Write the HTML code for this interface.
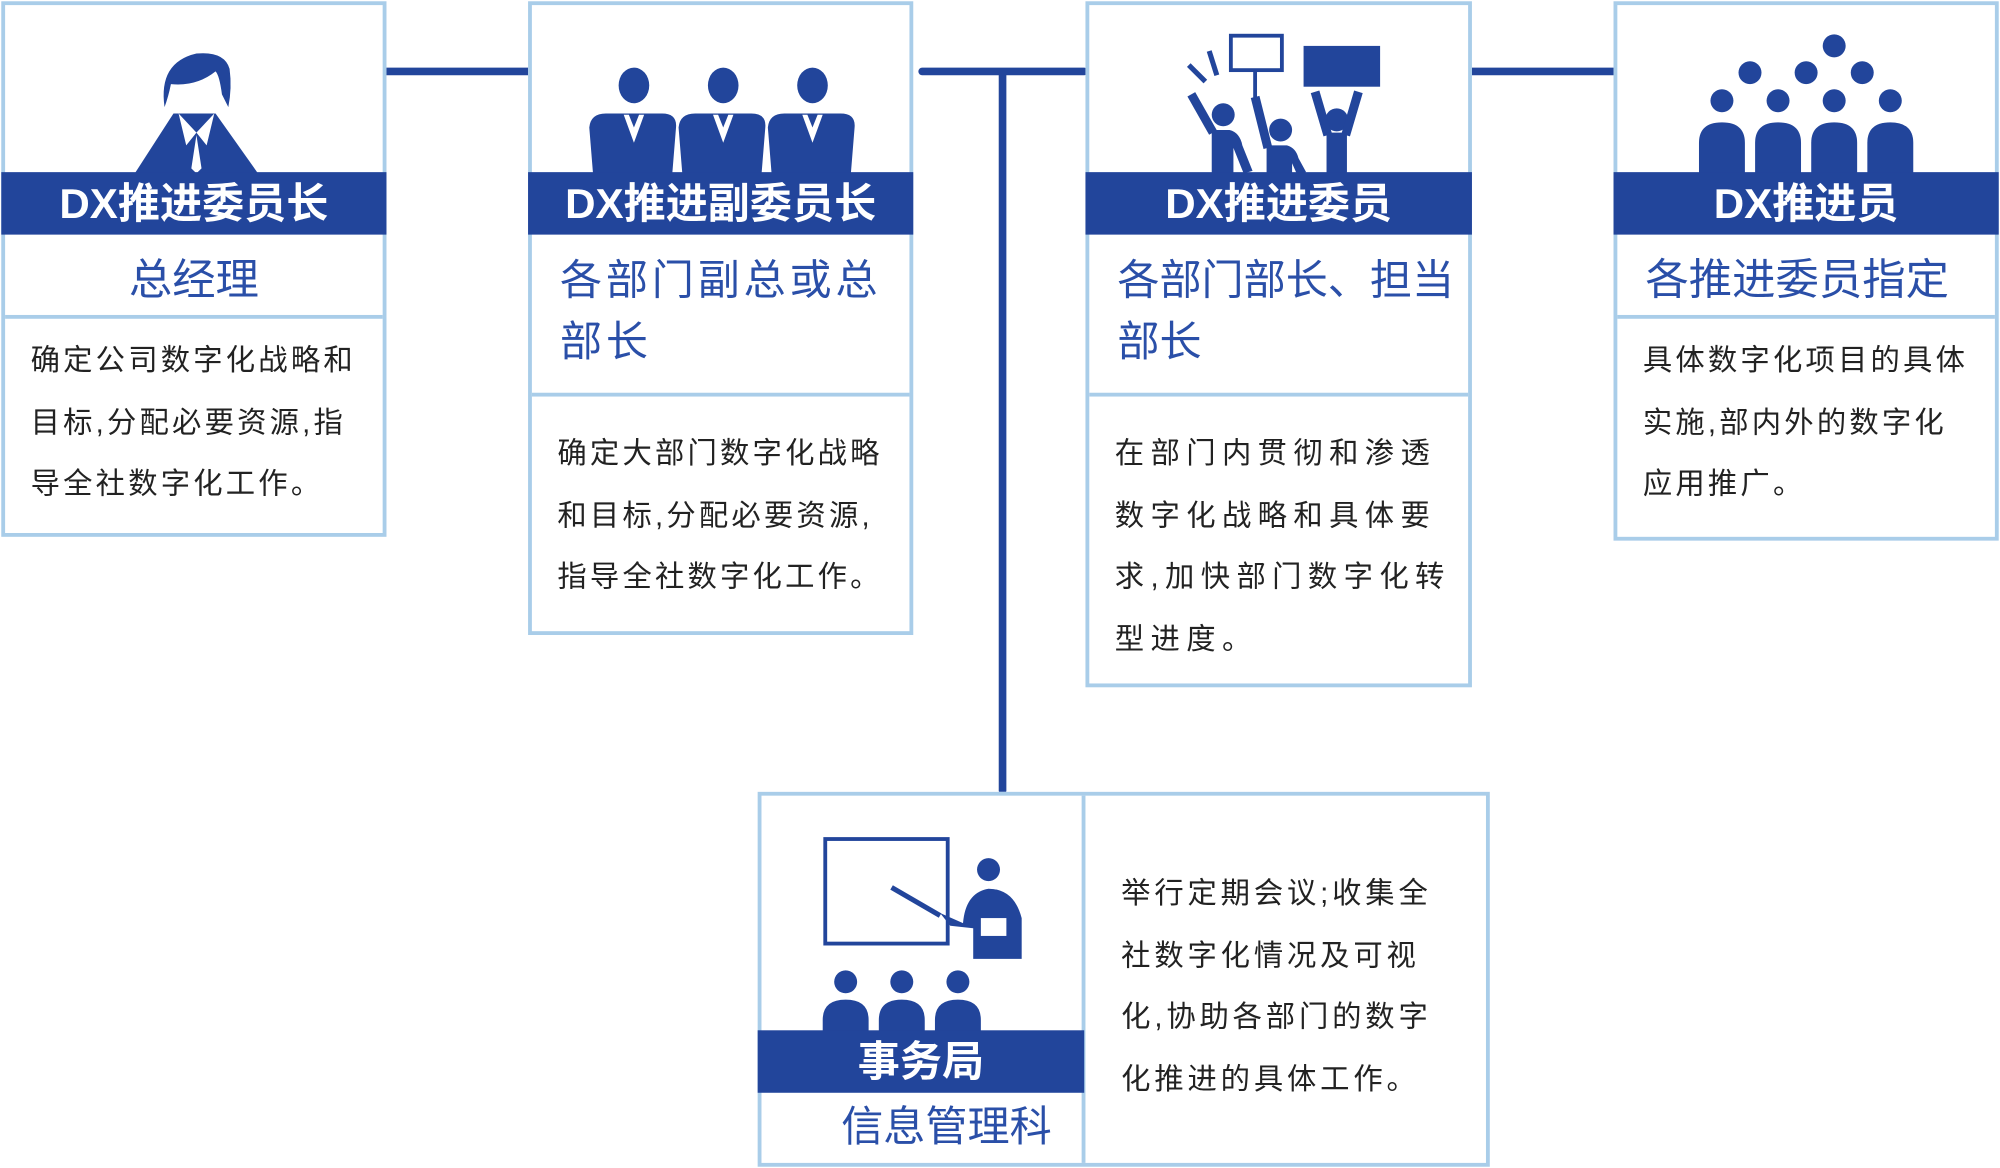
<!DOCTYPE html>
<html><head><meta charset="utf-8"><style>
*{margin:0;padding:0;box-sizing:border-box}
body{width:2000px;height:1168px;background:#fff;overflow:hidden;font-family:"Liberation Sans","Noto Sans CJK SC",sans-serif}
#s{position:absolute;left:0;top:0;width:1568px;height:916px;transform:scale(1.27551,1.27511);transform-origin:0 0}
.box{position:absolute;border:3px solid #a9cde9;background:#fff}
.band{position:absolute;left:-3px;right:-3px;height:49px;background:#22459b;color:#fff;font-weight:bold;font-size:33px;text-align:center;line-height:50px}
.sub{position:absolute;color:#2a4fa8;font-size:33px;line-height:48px}
.div{position:absolute;left:0;right:0;height:3px;background:#a9cde9}
.txt{position:absolute;color:#222;font-size:23px;line-height:48.5px;letter-spacing:2.5px;white-space:nowrap}
svg{position:absolute}
.ln{position:absolute;background:#22459b;border-radius:3px}
</style></head><body><div id="s">
<div class="ln" style="left:300px;top:53px;width:117px;height:6px"></div>
<div class="ln" style="left:720px;top:53px;width:133px;height:6px"></div>
<div class="ln" style="left:1151px;top:53px;width:117px;height:6px"></div>
<div class="ln" style="left:783px;top:56px;width:6px;height:567px"></div>

<div class="box" style="left:1px;top:1px;width:302px;height:420px">
<svg style="left:0;top:0" width="300" height="134" viewBox="0 0 300 134">
<path d="M125 80 Q120 45 150 38 Q172 36 176 50 Q178 65 175 80 L170 70 Q168 55 165 52 Q150 64 130 62 Q128 72 125 80Z" fill="#22459b"/>
<path d="M101 133 L132 85 L165 85 L199 133Z" fill="#22459b"/>
<path d="M136 85 L150 100 L142 110Z M164 85 L150 100 L158 110Z M150 102 L146 128 L150 132 L154 128Z" fill="#fff"/>
</svg>
<div class="band" style="top:131px">DX推进委员长</div>
<div class="sub" style="left:0;width:296px;text-align:center;top:192px;font-size:34px">总经理</div>
<div class="div" style="top:243px"></div>
<div class="txt" style="left:20px;top:254px">确定公司数字化战略和<br>目标,分配必要资源,指<br>导全社数字化工作。</div>
</div>

<div class="box" style="left:414px;top:1px;width:302px;height:497px">
<svg style="left:0;top:0" width="300" height="134">
<g fill="#22459b">
<ellipse cx="80" cy="63" rx="12" ry="14"/><path d="M48 133 L45 96 Q46 85 58 85 L102 85 Q114 85 113 96 L110 133Z"/>
<ellipse cx="150" cy="63" rx="12" ry="14"/><path d="M118 133 L115 96 Q116 85 128 85 L172 85 Q184 85 183 96 L180 133Z"/>
<ellipse cx="220" cy="63" rx="12" ry="14"/><path d="M188 133 L185 96 Q186 85 198 85 L242 85 Q254 85 253 96 L250 133Z"/>
</g><g fill="#fff">
<path d="M72 86 L80 108 L88 86 L84 86 L80 96 L76 86Z"/><path d="M142 86 L150 108 L158 86 L154 86 L150 96 L146 86Z"/><path d="M212 86 L220 108 L228 86 L224 86 L220 96 L216 86Z"/></g>
</svg>
<div class="band" style="top:131px">DX推进副委员长</div>
<div class="sub" style="left:22px;top:192px;width:275px;letter-spacing:3px">各部门副总或总<br>部长</div>
<div class="div" style="top:304px"></div>
<div class="txt" style="left:20px;top:327px">确定大部门数字化战略<br>和目标,分配必要资源,<br>指导全社数字化工作。</div>
</div>

<div class="box" style="left:851px;top:1px;width:303px;height:538px">
<svg style="left:0;top:0" width="300" height="134">
<g fill="#22459b" stroke="#22459b" stroke-linecap="butt">
<rect x="111" y="24" width="40" height="27" fill="none" stroke-width="3"/>
<line x1="130" y1="51" x2="130" y2="76" stroke-width="3"/>
<rect x="168" y="32" width="60" height="32" stroke="none"/>
<line x1="78" y1="47" x2="91" y2="60" stroke-width="4"/><line x1="94" y1="36" x2="100" y2="55" stroke-width="4"/>
<circle cx="105" cy="86" r="9" stroke="none"/><circle cx="150" cy="98" r="9" stroke="none"/><circle cx="194" cy="90" r="9" stroke="none"/>
<line x1="97" y1="100" x2="80" y2="70" stroke-width="7"/>
<path d="M96 98 L110 98 Q118 100 120 110 L128 130 L121 132 L113 112 L113 133 L96 133Z" stroke="none"/>
<line x1="140" y1="112" x2="130" y2="72" stroke-width="7"/>
<path d="M139 110 L155 110 Q162 112 164 120 L170 131 L163 133 L159 124 L159 133 L139 133Z" stroke="none"/>
<line x1="187" y1="102" x2="177" y2="68" stroke-width="7"/>
<line x1="201" y1="102" x2="211" y2="68" stroke-width="7"/>
<rect x="186" y="100" width="16" height="33" stroke="none"/>
</g></svg>
<div class="band" style="top:131px">DX推进委员</div>
<div class="sub" style="left:22px;top:192px;width:280px">各部门部长、担当<br>部长</div>
<div class="div" style="top:304px"></div>
<div class="txt" style="left:20px;top:327px;letter-spacing:5px">在部门内贯彻和渗透<br>数字化战略和具体要<br>求,加快部门数字化转<br>型进度。</div>
</div>

<div class="box" style="left:1265px;top:1px;width:302px;height:423px">
<svg style="left:0;top:0" width="300" height="134"><g fill="#22459b">
<circle cx="170" cy="32" r="9"/><circle cx="104" cy="53" r="9"/><circle cx="148" cy="53" r="9"/><circle cx="192" cy="53" r="9"/>
<circle cx="82" cy="75" r="9"/><circle cx="126" cy="75" r="9"/><circle cx="170" cy="75" r="9"/><circle cx="214" cy="75" r="9"/>
<path d="M64 133 L64 108 Q64 92 82 92 Q100 92 100 108 L100 133Z"/><path d="M108 133 L108 108 Q108 92 126 92 Q144 92 144 108 L144 133Z"/>
<path d="M152 133 L152 108 Q152 92 170 92 Q188 92 188 108 L188 133Z"/><path d="M196 133 L196 108 Q196 92 214 92 Q232 92 232 108 L232 133Z"/>
</g></svg>
<div class="band" style="top:131px">DX推进员</div>
<div class="sub" style="left:22px;top:192px;width:278px;font-size:34px">各推进委员指定</div>
<div class="div" style="top:243px"></div>
<div class="txt" style="left:20px;top:254px">具体数字化项目的具体<br>实施,部内外的数字化<br>应用推广。</div>
</div>

<div class="box" style="left:594px;top:621px;width:574px;height:294px">
<div style="position:absolute;left:251px;top:0;bottom:0;width:3px;background:#a9cde9"></div>
<svg style="left:0;top:0" width="252" height="186"><g fill="#22459b" stroke="#22459b">
<rect x="50" y="34" width="96" height="82" fill="none" stroke-width="3"/>
<line x1="102" y1="72" x2="140" y2="94" stroke-width="4"/>
<circle cx="178" cy="58" r="9" stroke="none"/>
<path d="M140 92 L158 100 Q160 76 178 73 Q198 73 204 96 L204 128 L166 128 L166 104 L148 102Z" stroke="none"/>
<rect x="172" y="96" width="20" height="14" fill="#fff" stroke="none"/>
<circle cx="66" cy="146" r="9" stroke="none"/><circle cx="110" cy="146" r="9" stroke="none"/><circle cx="154" cy="146" r="9" stroke="none"/>
<path d="M48 186 L48 176 Q48 160 66 160 Q84 160 84 176 L84 186Z M92 186 L92 176 Q92 160 110 160 Q128 160 128 176 L128 186Z M136 186 L136 176 Q136 160 154 160 Q172 160 172 176 L172 186Z" stroke="none"/>
</g></svg>
<div class="band" style="top:184px;left:-3px;right:auto;width:256px">事务局</div>
<div class="sub" style="left:0;width:290px;text-align:center;top:236px">信息管理科</div>
<div class="txt" style="left:282px;top:52px;letter-spacing:3px">举行定期会议;收集全<br>社数字化情况及可视<br>化,协助各部门的数字<br>化推进的具体工作。</div>
</div>
</div></body></html>
